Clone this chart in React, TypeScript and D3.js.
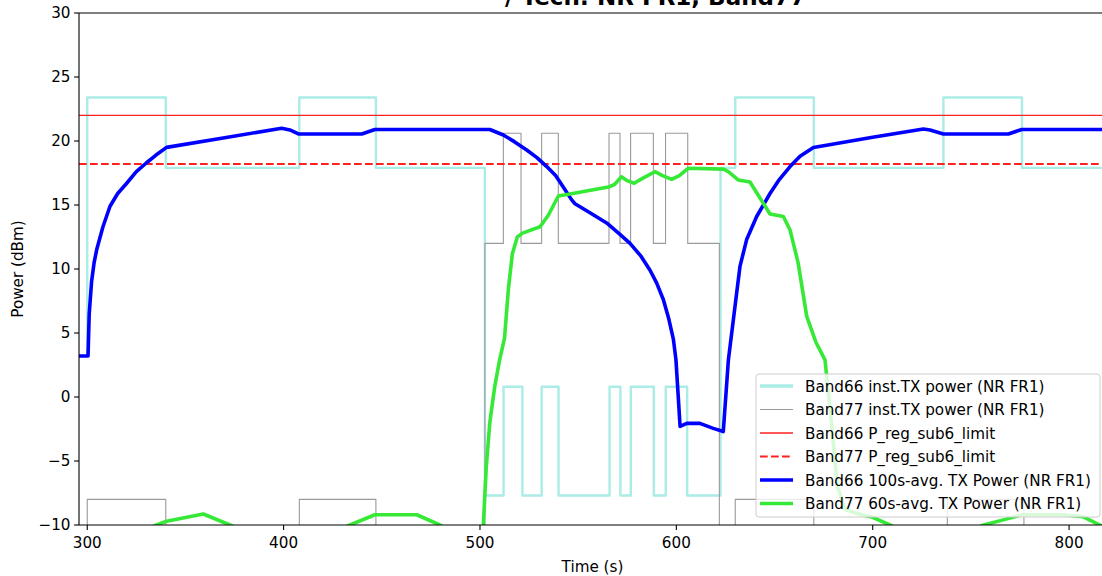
import React from 'react';
import * as d3 from 'd3';

// ---------- data ----------
const xTicks = [300, 400, 500, 600, 700, 800];
const yTicks = [-10, -5, 0, 5, 10, 15, 20, 25, 30];

// Band66 instantaneous TX power (step, post)
const b66InstT = [295.8, 300, 340, 408, 447, 502.5, 512, 521.6, 531.4, 540, 566, 571.5, 576.8, 588.5, 594.6, 605.5, 622.5, 630, 670, 736, 776, 818.8];
const b66InstV = [3.2, 23.4, 17.9, 23.4, 17.9, -7.7, 0.8, -7.7, 0.8, -7.7, 0.8, -7.7, 0.8, -7.7, 0.8, -7.7, 17.9, 23.4, 17.9, 23.4, 17.9, 17.9];

// Band77 instantaneous TX power (step, post); -20 = off (below axis)
const b77InstT = [295.8, 300, 340, 408, 447, 502.5, 511.9, 520.9, 531.4, 539.9, 565.7, 571.3, 576.7, 588.3, 594.5, 605.8, 621.9, 630, 670, 738, 777, 818.8];
const b77InstV = [-20, -8, -20, -8, -20, 12, 20.6, 12, 20.6, 12, 20.6, 12, 20.6, 12, 20.6, 12, -20, -8, -20, -8, -20, -20];

// regulatory limits
const b66Limit = 22;
const b77Limit = 18.2;

// Band66 100s-average TX power
const b66AvgT = [295.8, 300.4, 301, 302.2, 303.5, 304.8, 308, 311.6, 315.5, 320.1, 325, 330.2, 335, 340.4, 370, 399, 403.2, 407.5, 439.8, 446.5, 505, 511.9, 517.5, 523.8, 529, 534, 538.5, 542.4, 546.7, 548.4, 556, 564.5, 571, 576.4, 582, 586.6, 590, 593.4, 596, 598.5, 599.8, 601.9, 605.3, 612, 618.8, 623.9, 626.5, 629, 630.7, 632.4, 635.8, 640.9, 647.7, 652, 657.9, 663, 669.8, 700, 725.8, 729.2, 736, 769.1, 775.9, 818.8];
const b66AvgV = [3.2, 3.2, 6.5, 9.0, 10.5, 11.5, 13.3, 14.9, 15.9, 16.7, 17.6, 18.3, 18.9, 19.5, 20.25, 21.0, 20.86, 20.55, 20.55, 20.9, 20.9, 20.47, 19.95, 19.3, 18.7, 18.0, 17.3, 16.4, 15.4, 15.1, 14.4, 13.6, 12.75, 12.0, 11.0, 9.9, 8.9, 7.6, 6.2, 4.5, 2.9, -2.3, -2.06, -2.06, -2.45, -2.7, 2.9, 6.0, 8.1, 10.2, 12.3, 14.1, 15.9, 16.9, 18.0, 18.8, 19.5, 20.3, 20.94, 20.86, 20.55, 20.55, 20.9, 20.9];

// Band77 60s-average TX power
const b77AvgT = [295.8, 315, 330, 335.3, 340.4, 359.1, 372.7, 385, 410, 425, 433.8, 446.5, 467.8, 479.6, 490, 500.5, 501.7, 503.2, 505, 507.5, 510, 512.5, 514.5, 516.5, 519, 521.7, 530.6, 534.8, 539.9, 545.8, 565.4, 568.5, 572, 575, 578.5, 583, 589.1, 593, 597.6, 601.5, 606.1, 624, 626.5, 631.6, 637.5, 647.7, 654.5, 657.9, 662, 666.4, 671, 675.7, 679, 682, 686, 692, 700, 708.8, 720, 745, 756.5, 766.5, 776, 797, 807, 815.7, 818.8];
const b77AvgV = [-11.6, -11, -10.35, -10, -9.7, -9.14, -10, -10.8, -11, -10.6, -10, -9.2, -9.2, -10, -10.8, -13, -10, -5.5, -2, 0.8, 2.9, 4.6, 8.5, 11.2, 12.5, 12.8, 13.3, 14.2, 15.7, 15.86, 16.4, 16.6, 17.2, 16.9, 16.7, 17.1, 17.6, 17.3, 17.0, 17.3, 17.87, 17.8, 17.6, 16.95, 16.8, 14.3, 14.1, 13.05, 10.5, 6.3, 4.3, 2.9, -2, -7, -8.8, -9.1, -9.4, -10, -10.8, -10.8, -10, -9.6, -9.2, -9.2, -9.35, -10, -10.3];

const legendLabels = [
  'Band66 inst.TX power (NR FR1)',
  'Band77 inst.TX power (NR FR1)',
  'Band66 P_reg_sub6_limit',
  'Band77 P_reg_sub6_limit',
  'Band66 100s-avg. TX Power (NR FR1)',
  'Band77 60s-avg. TX Power (NR FR1)',
];

const titleText = '/ Tech: NR FR1, Band77';

// ---------- styles ----------
const C_CYAN = '#aaece6';
const C_GRAY = '#9a9a9a';
const C_RED = '#ff2020';
const C_BLUE = '#0000ff';
const C_GREEN = '#36e936';
const FONT = '"DejaVu Sans", Verdana, sans-serif';
const FS = 15.2;

export default function App() {
  const W = 1102, H = 576;
  const L = 79, T = 13, R = 1106, B = 525;
  const x = d3.scaleLinear().domain([295.8, 818.8]).range([L, R]);
  const y = d3.scaleLinear().domain([-10, 30]).range([B, T]);

  const zip = (t: number[], v: number[]) => t.map((ti, i) => [ti, v[i]] as [number, number]);
  const step = d3.line<[number, number]>().x(d => x(d[0])).y(d => y(d[1])).curve(d3.curveStepAfter);
  const lin = d3.line<[number, number]>().x(d => x(d[0])).y(d => y(d[1])).curve(d3.curveLinear);

  const [x0, x1] = x.domain();

  const styles = [
    { stroke: C_CYAN, w: 3.4, dash: undefined as string | undefined },
    { stroke: C_GRAY, w: 1.1, dash: undefined },
    { stroke: C_RED, w: 1.4, dash: undefined },
    { stroke: C_RED, w: 2.1, dash: '7.7,3.3' },
    { stroke: C_BLUE, w: 3.6, dash: undefined },
    { stroke: C_GREEN, w: 3.6, dash: undefined },
  ];

  const legX = 756, legY = 374, legW = 344, legH = 143;
  const rowY0 = 386, rowDy = 23.5;

  return (
    <svg width={W} height={H} style={{ position: 'absolute', left: 0, top: 0, background: '#fff' }} fontFamily={FONT}>
      <defs>
        <clipPath id="plotClip">
          <rect x={L} y={T} width={R - L} height={B - T} />
        </clipPath>
      </defs>
      <rect x={0} y={0} width={W} height={H} fill="#fff" />

      <g clipPath="url(#plotClip)" fill="none" strokeLinejoin="round">
        <path d={step(zip(b66InstT, b66InstV)) || ''} stroke={C_CYAN} strokeWidth={2.4} />
        <path d={step(zip(b77InstT, b77InstV)) || ''} stroke={C_GRAY} strokeWidth={1.1} />
        <path d={lin([[x0, b66Limit], [x1, b66Limit]]) || ''} stroke={C_RED} strokeWidth={1.4} />
        <path d={lin([[x0, b77Limit], [x1, b77Limit]]) || ''} stroke={C_RED} strokeWidth={2.1} strokeDasharray="7.7,3.3" />
        <path d={lin(zip(b66AvgT, b66AvgV)) || ''} stroke={C_BLUE} strokeWidth={3.6} />
        <path d={lin(zip(b77AvgT, b77AvgV)) || ''} stroke={C_GREEN} strokeWidth={3.6} />
      </g>

      {/* spines */}
      <line x1={L} y1={T} x2={L} y2={B} stroke="#000" strokeWidth={1.1} />
      <line x1={L} y1={B} x2={R} y2={B} stroke="#000" strokeWidth={1.1} />
      <line x1={L} y1={T} x2={R} y2={T} stroke="#000" strokeWidth={1.1} />
      <line x1={R} y1={T} x2={R} y2={B} stroke="#000" strokeWidth={1.1} />

      {/* x ticks */}
      {xTicks.map(t => (
        <g key={'x' + t}>
          <line x1={x(t)} x2={x(t)} y1={B} y2={B + 4.9} stroke="#000" strokeWidth={1.1} />
          <text x={x(t)} y={B + 22.5} textAnchor="middle" fontSize={FS} fill="#000">{t}</text>
        </g>
      ))}
      {/* y ticks */}
      {yTicks.map(t => (
        <g key={'y' + t}>
          <line x1={L - 4.9} x2={L} y1={y(t)} y2={y(t)} stroke="#000" strokeWidth={1.1} />
          <text x={L - 8.5} y={y(t) + 5.4} textAnchor="end" fontSize={FS} fill="#000">{t < 0 ? '\u2212' + Math.abs(t) : t}</text>
        </g>
      ))}

      <text x={(L + R) / 2} y={571.5} textAnchor="middle" fontSize={FS} fill="#000">Time (s)</text>
      <text transform={`translate(23,${(T + B) / 2}) rotate(-90)`} textAnchor="middle" fontSize={FS} fill="#000">Power (dBm)</text>

      <text x={806} y={5} textAnchor="end" fontSize={23} fontWeight="bold" fill="#000">{titleText}</text>

      {/* legend */}
      <rect x={legX} y={legY} width={legW} height={legH} rx={3} ry={3} fill="#fff" fillOpacity={0.8} stroke="#cccccc" strokeWidth={1} />
      {legendLabels.map((lab, i) => {
        const ry = rowY0 + i * rowDy;
        const s = styles[i];
        return (
          <g key={lab}>
            <line x1={760} x2={793} y1={ry} y2={ry} stroke={s.stroke} strokeWidth={s.w} strokeDasharray={s.dash} />
            <text x={805} y={ry + 5.5} fontSize={FS} fill="#000">{lab}</text>
          </g>
        );
      })}
    </svg>
  );
}
